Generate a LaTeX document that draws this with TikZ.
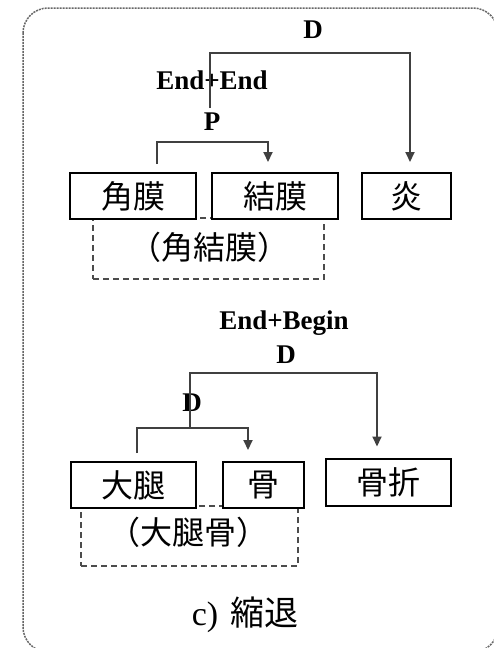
\documentclass[tikz,border=0pt]{standalone}
\usepackage{fontspec}
\setmainfont{Liberation Serif}
\newfontfamily\cjk{Noto Sans CJK JP}
\newfontfamily\cjkhalt[RawFeature={+halt}]{Noto Sans CJK JP}
\usetikzlibrary{arrows.meta}
\begin{document}
\begin{tikzpicture}[x=1pt,y=-1pt,
  box/.style={draw=black,fill=white,line width=2pt,minimum height=46pt,inner sep=0pt,font=\cjk\fontsize{32}{32}\selectfont},
  lbl/.style={font=\bfseries\fontsize{27}{27}\selectfont,inner sep=0pt},
  conn/.style={draw=black!75,line width=2pt},
  arr/.style={conn,-{Triangle[width=9pt,length=10pt]}},
  grp/.style={draw=black!70,line width=2pt,dash pattern=on 6pt off 4pt,inner sep=0pt,font=\cjkhalt\fontsize{32}{32}\selectfont},
  ]
\useasboundingbox (0,0) rectangle (494,648);
\begin{scope}
  \clip (0,0) rectangle (494,648);
  \draw[black!60,line width=1.5pt,dash pattern=on 2pt off 1pt,rounded corners=25pt] (23,8) rectangle (498,652);
\end{scope}

% top section
\node[grp,minimum width=231pt,minimum height=61pt] (g1) at (208.5,248.5) {};
\node[font=\cjkhalt\fontsize{32}{32}\selectfont,inner sep=0pt] (g1t) at (209,247) {（角結膜）};
\node[box,minimum width=126pt] (kaku) at (133,196) {角膜};
\node[box,minimum width=126pt] (ketsu) at (275,196) {結膜};
\node[box,minimum width=89pt] (yan) at (406.5,196) {炎};

\node[lbl] (D1) at (313,30) {D};
\node[lbl] (EE) at (212,80) {End+End};
\node[lbl] (P1) at (212,122) {P};

\coordinate (Pl) at (157,142);
\coordinate (Pr) at (268,142);
\draw[arr,shorten <=8pt,shorten >=10pt] (Pl |- kaku.north) -- (Pl) -- (Pr) -- (Pr |- ketsu.north);

\coordinate (Ds) at (210,108);
\coordinate (Dl) at (210,53);
\coordinate (Dr) at (410,53);
\draw[arr,shorten >=10pt] (Ds) -- (Dl) -- (Dr) -- (Dr |- yan.north);

% bottom section
\node[grp,minimum width=217pt,minimum height=60pt] (g2) at (189.5,536) {};
\node[font=\cjkhalt\fontsize{32}{32}\selectfont,inner sep=0pt] (g2t) at (188,532) {（大腿骨）};
\node[box,minimum width=125pt] (daitai) at (133.5,485) {大腿};
\node[box,minimum width=81pt] (hone) at (263.5,485) {骨};
\node[box,minimum width=125pt,minimum height=47pt] (kossetsu) at (388.5,482) {骨折};

\node[lbl] (EB) at (284,323) {End+Begin};
\node[lbl] (D2) at (286,355) {D};
\node[lbl] (D3) at (192,403) {D};

\coordinate (B1) at (190,373);
\coordinate (B2) at (377,373);
\coordinate (C1) at (190,428);
\draw[arr,shorten >=11pt] (C1) -- (B1) -- (B2) -- (B2 |- kossetsu.north);

\coordinate (C0) at (137,428);
\coordinate (C2) at (248,428);
\draw[arr,shorten <=8pt,shorten >=11pt] (C0 |- daitai.north) -- (C0) -- (C2) -- (C2 |- hone.north);

\node[font=\fontsize{34}{34}\selectfont,inner sep=0pt] (cap) at (245,615) {c)\hspace{12pt}{\cjk\fontsize{34}{34}\selectfont 縮退}};
\end{tikzpicture}
\end{document}
